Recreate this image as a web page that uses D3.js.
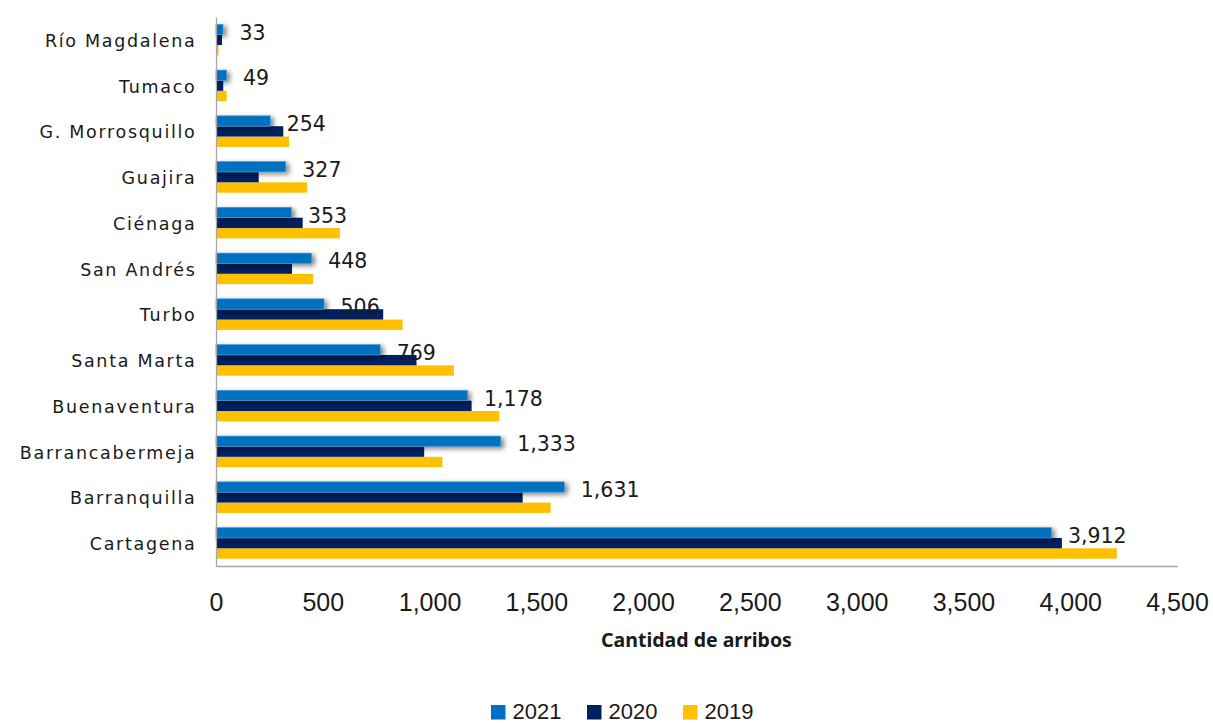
<!DOCTYPE html>
<html>
<head>
<meta charset="utf-8">
<script src="https://cdn.jsdelivr.net/npm/d3@7"></script>
<style>
    body { margin: 0; background: #fff; overflow: hidden; }
    .st-chart { display: block; }
    .st-chart text { fill: #1a1a1a; }
</style>
</head>
<body>
<div class="st-charts"></div>
<script>
// data
var categories = ["Río Magdalena", "Tumaco", "G. Morrosquillo", "Guajira", "Ciénaga", "San Andrés",
    "Turbo", "Santa Marta", "Buenaventura", "Barrancabermeja", "Barranquilla", "Cartagena"];
var series = ["2021", "2020", "2019"];
var values2021 = [33, 49, 254, 327, 353, 448, 506, 769, 1178, 1333, 1631, 3912];
var values2020 = [28, 34, 315, 200, 406, 356, 783, 939, 1197, 975, 1436, 3961];
var values2019 = [12, 50, 342, 427, 580, 455, 874, 1114, 1327, 1060, 1567, 4218];
var xTicks = [0, 500, 1000, 1500, 2000, 2500, 3000, 3500, 4000, 4500];
var colors = ["#0070C0", "#002060", "#FFC000"];

drawChart();

function drawChart() {
    var width = 1213, height = 724;
    var left = 216, right = 1177, top = 17, bottom = 566;

    var svg = d3.select('.st-charts')
        .append('svg')
        .attr('class', 'st-chart')
        .attr('width', width)
        .attr('height', height);

    var defs = svg.append('defs');
    var f = defs.append('filter').attr('id', 'shadow')
        .attr('x', '-10%').attr('y', '-50%').attr('width', '130%').attr('height', '220%');
    f.append('feDropShadow')
        .attr('dx', 3).attr('dy', 2)
        .attr('stdDeviation', 2.5)
        .attr('flood-color', '#000')
        .attr('flood-opacity', 0.5);

    var x = d3.scaleLinear().domain([0, 4500]).range([left, right]);
    var y = d3.scaleBand().domain(categories).range([top, bottom])
        .paddingInner(0.32).paddingOuter(0.16);
    var ySub = d3.scaleBand().domain(series).range([0, y.bandwidth()]);

    var table = categories.map(function (c, i) {
        return {cat: c, vals: [values2021[i], values2020[i], values2019[i]]};
    });

    // bars, bottom series first so the 2021 shadow sits on top
    [2, 1, 0].forEach(function (s) {
        svg.append('g')
            .attr('filter', s === 0 ? 'url(#shadow)' : null)
            .selectAll('rect')
            .data(table)
            .enter()
            .append('rect')
            .attr('x', x(0))
            .attr('y', function (d) { return y(d.cat) + ySub(series[s]); })
            .attr('width', function (d) { return x(d.vals[s]) - x(0); })
            .attr('height', ySub.bandwidth())
            .attr('fill', colors[s])
            .attr('stroke', s === 0 ? '#4e9ad6' : 'none')
            .attr('stroke-width', s === 0 ? 0.6 : 0);
    });

    // axes
    var xAxis = d3.axisBottom(x).tickValues(xTicks)
        .tickFormat(d3.format(',')).tickSize(0).tickSizeOuter(0);
    var gx = svg.append('g').attr('transform', 'translate(0,' + bottom + ')').call(xAxis);
    gx.select('.domain').attr('stroke', '#a6a6a6').attr('stroke-width', 1.3);
    gx.selectAll('text')
        .attr('y', 45).attr('dy', 0)
        .style('font-family', '"Liberation Sans", Arial, sans-serif')
        .style('font-size', '25px')
        .style('fill', '#1a1a1a');

    var yAxis = d3.axisLeft(y).tickSize(0).tickSizeOuter(0);
    var gy = svg.append('g').attr('transform', 'translate(' + left + ',0)').call(yAxis);
    gy.select('.domain').attr('stroke', '#a6a6a6').attr('stroke-width', 1.3);
    gy.selectAll('text')
        .attr('x', -19.5).attr('dy', 0).attr('y', 6.9)
        .style('font-family', '"DejaVu Sans", sans-serif')
        .style('font-size', '17.5px')
        .style('letter-spacing', '1.7px')
        .style('fill', '#1a1a1a');

    // data labels for 2021
    svg.append('g')
        .selectAll('text')
        .data(table)
        .enter()
        .append('text')
        .attr('x', function (d) { return x(d.vals[0]) + 16.5; })
        .attr('y', function (d) { return y(d.cat) + 15.3; })
        .style('font-family', '"DejaVu Sans", sans-serif')
        .style('font-size', '20.5px')
        .text(function (d) { return d3.format(',')(d.vals[0]); });

    // axis title
    svg.append('text')
        .attr('x', (left + right) / 2)
        .attr('y', 647)
        .attr('text-anchor', 'middle')
        .style('font-family', '"Noto Sans", sans-serif')
        .style('font-weight', 'bold')
        .style('font-size', '19.5px')
        .text('Cantidad de arribos');

    // legend
    var legend = svg.append('g').selectAll('g')
        .data(series)
        .enter()
        .append('g')
        .attr('transform', function (d, i) { return 'translate(' + (491 + i * 96) + ',705)'; });
    legend.append('rect')
        .attr('width', 14.5).attr('height', 14.5)
        .attr('fill', function (d, i) { return colors[i]; });
    legend.append('text')
        .attr('x', 21.5).attr('y', 14)
        .style('font-family', '"Liberation Sans", Arial, sans-serif')
        .style('font-size', '22px')
        .text(function (d) { return d; });
}
</script>
</body>
</html>
